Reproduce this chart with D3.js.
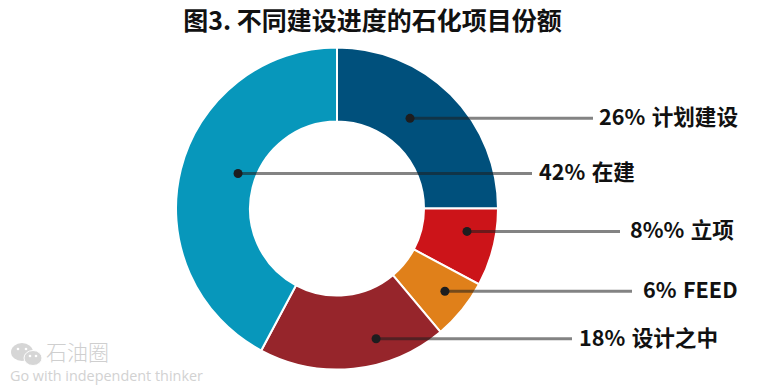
<!DOCTYPE html>
<html><head><meta charset="utf-8">
<script src="https://cdn.jsdelivr.net/npm/d3@7"></script>
<style>html,body{margin:0;background:#fff}svg{display:block}</style>
</head><body><svg id="c" width="775" height="387"></svg>
<script>
const titleText = "图3. 不同建设进度的石化项目份额";
const categories = ["计划建设","立项","FEED","设计之中","在建"];
const labelValues = ["26%","8%%","6%","18%","42%"];
const sliceShares = [25,7.8,6.1,18.9,42.2];
const sliceColors = ["#00507c","#cc1419","#e0801a","#96252b","#0797bb"];
const dotAngles = [39,100,127.5,163.3,289.5];
const dotRadii = [116,132,136,136,105];
const lineEnds = [593,620,632,572,532];
const labelStarts = [599,630,643,579,539];

const W=775,H=387,cx=337,cy=208.5,R=161,r=87;
const svg=d3.select("#c");
const FONT='"Noto Sans CJK SC","Noto Sans",sans-serif';
svg.append("text").attr("x",372.5).attr("y",30).attr("text-anchor","middle")
  .attr("font-family",FONT).attr("font-weight",700).attr("font-size",25).attr("fill","#111").text(titleText);

const pie=d3.pie().sort(null).value(d=>d)(sliceShares);
const arc=d3.arc().innerRadius(r).outerRadius(R);
const g=svg.append("g").attr("transform",`translate(${cx},${cy})`);
g.selectAll("path").data(pie).join("path").attr("d",arc)
  .attr("fill",(d,i)=>sliceColors[i]).attr("stroke","#fff").attr("stroke-width",2);

const rad=d3.scaleLinear().domain([0,360]).range([0,2*Math.PI]);
const px=i=>cx+dotRadii[i]*Math.sin(rad(dotAngles[i]));
const py=i=>cy-dotRadii[i]*Math.cos(rad(dotAngles[i]));
const idx=d3.range(categories.length);
svg.selectAll("line.l").data(idx).join("line").attr("class","l")
  .attr("x1",px).attr("y1",py).attr("x2",i=>lineEnds[i]).attr("y2",py)
  .attr("stroke","rgba(30,30,30,.55)").attr("stroke-width",3);
svg.selectAll("circle.d").data(idx).join("circle").attr("class","d")
  .attr("cx",px).attr("cy",py).attr("r",4.5).attr("fill","#1d1d1f");
svg.selectAll("text.t").data(idx).join("text").attr("class","t")
  .attr("x",i=>labelStarts[i]).attr("y",i=>py(i)+7)
  .attr("font-family",FONT).attr("font-weight",700).attr("font-size",21.6).attr("fill","#111")
  .attr("word-spacing",1.5)
  .text(i=>labelValues[i]+" "+categories[i]);

const wm=svg.append("g").attr("fill","#d6d6d6");
wm.append("ellipse").attr("cx",22).attr("cy",352).attr("rx",11).attr("ry",9);
wm.append("ellipse").attr("cx",33).attr("cy",358).attr("rx",9).attr("ry",7.5).attr("stroke","#fff").attr("stroke-width",1);
[[18,349],[26,349],[30,356],[36,356]].forEach(e=>wm.append("circle").attr("cx",e[0]).attr("cy",e[1]).attr("r",1.3).attr("fill","#fff"));
wm.append("text").attr("x",46).attr("y",360).attr("font-family",FONT).attr("font-weight",300).attr("font-size",21).attr("fill","#cfcfcf").text("石油圈");
wm.append("text").attr("x",10).attr("y",381).attr("font-family",'"Open Sans",sans-serif').attr("font-size",14.4).attr("fill","#d2d2d2").text("Go with independent thinker");
</script></body></html>
